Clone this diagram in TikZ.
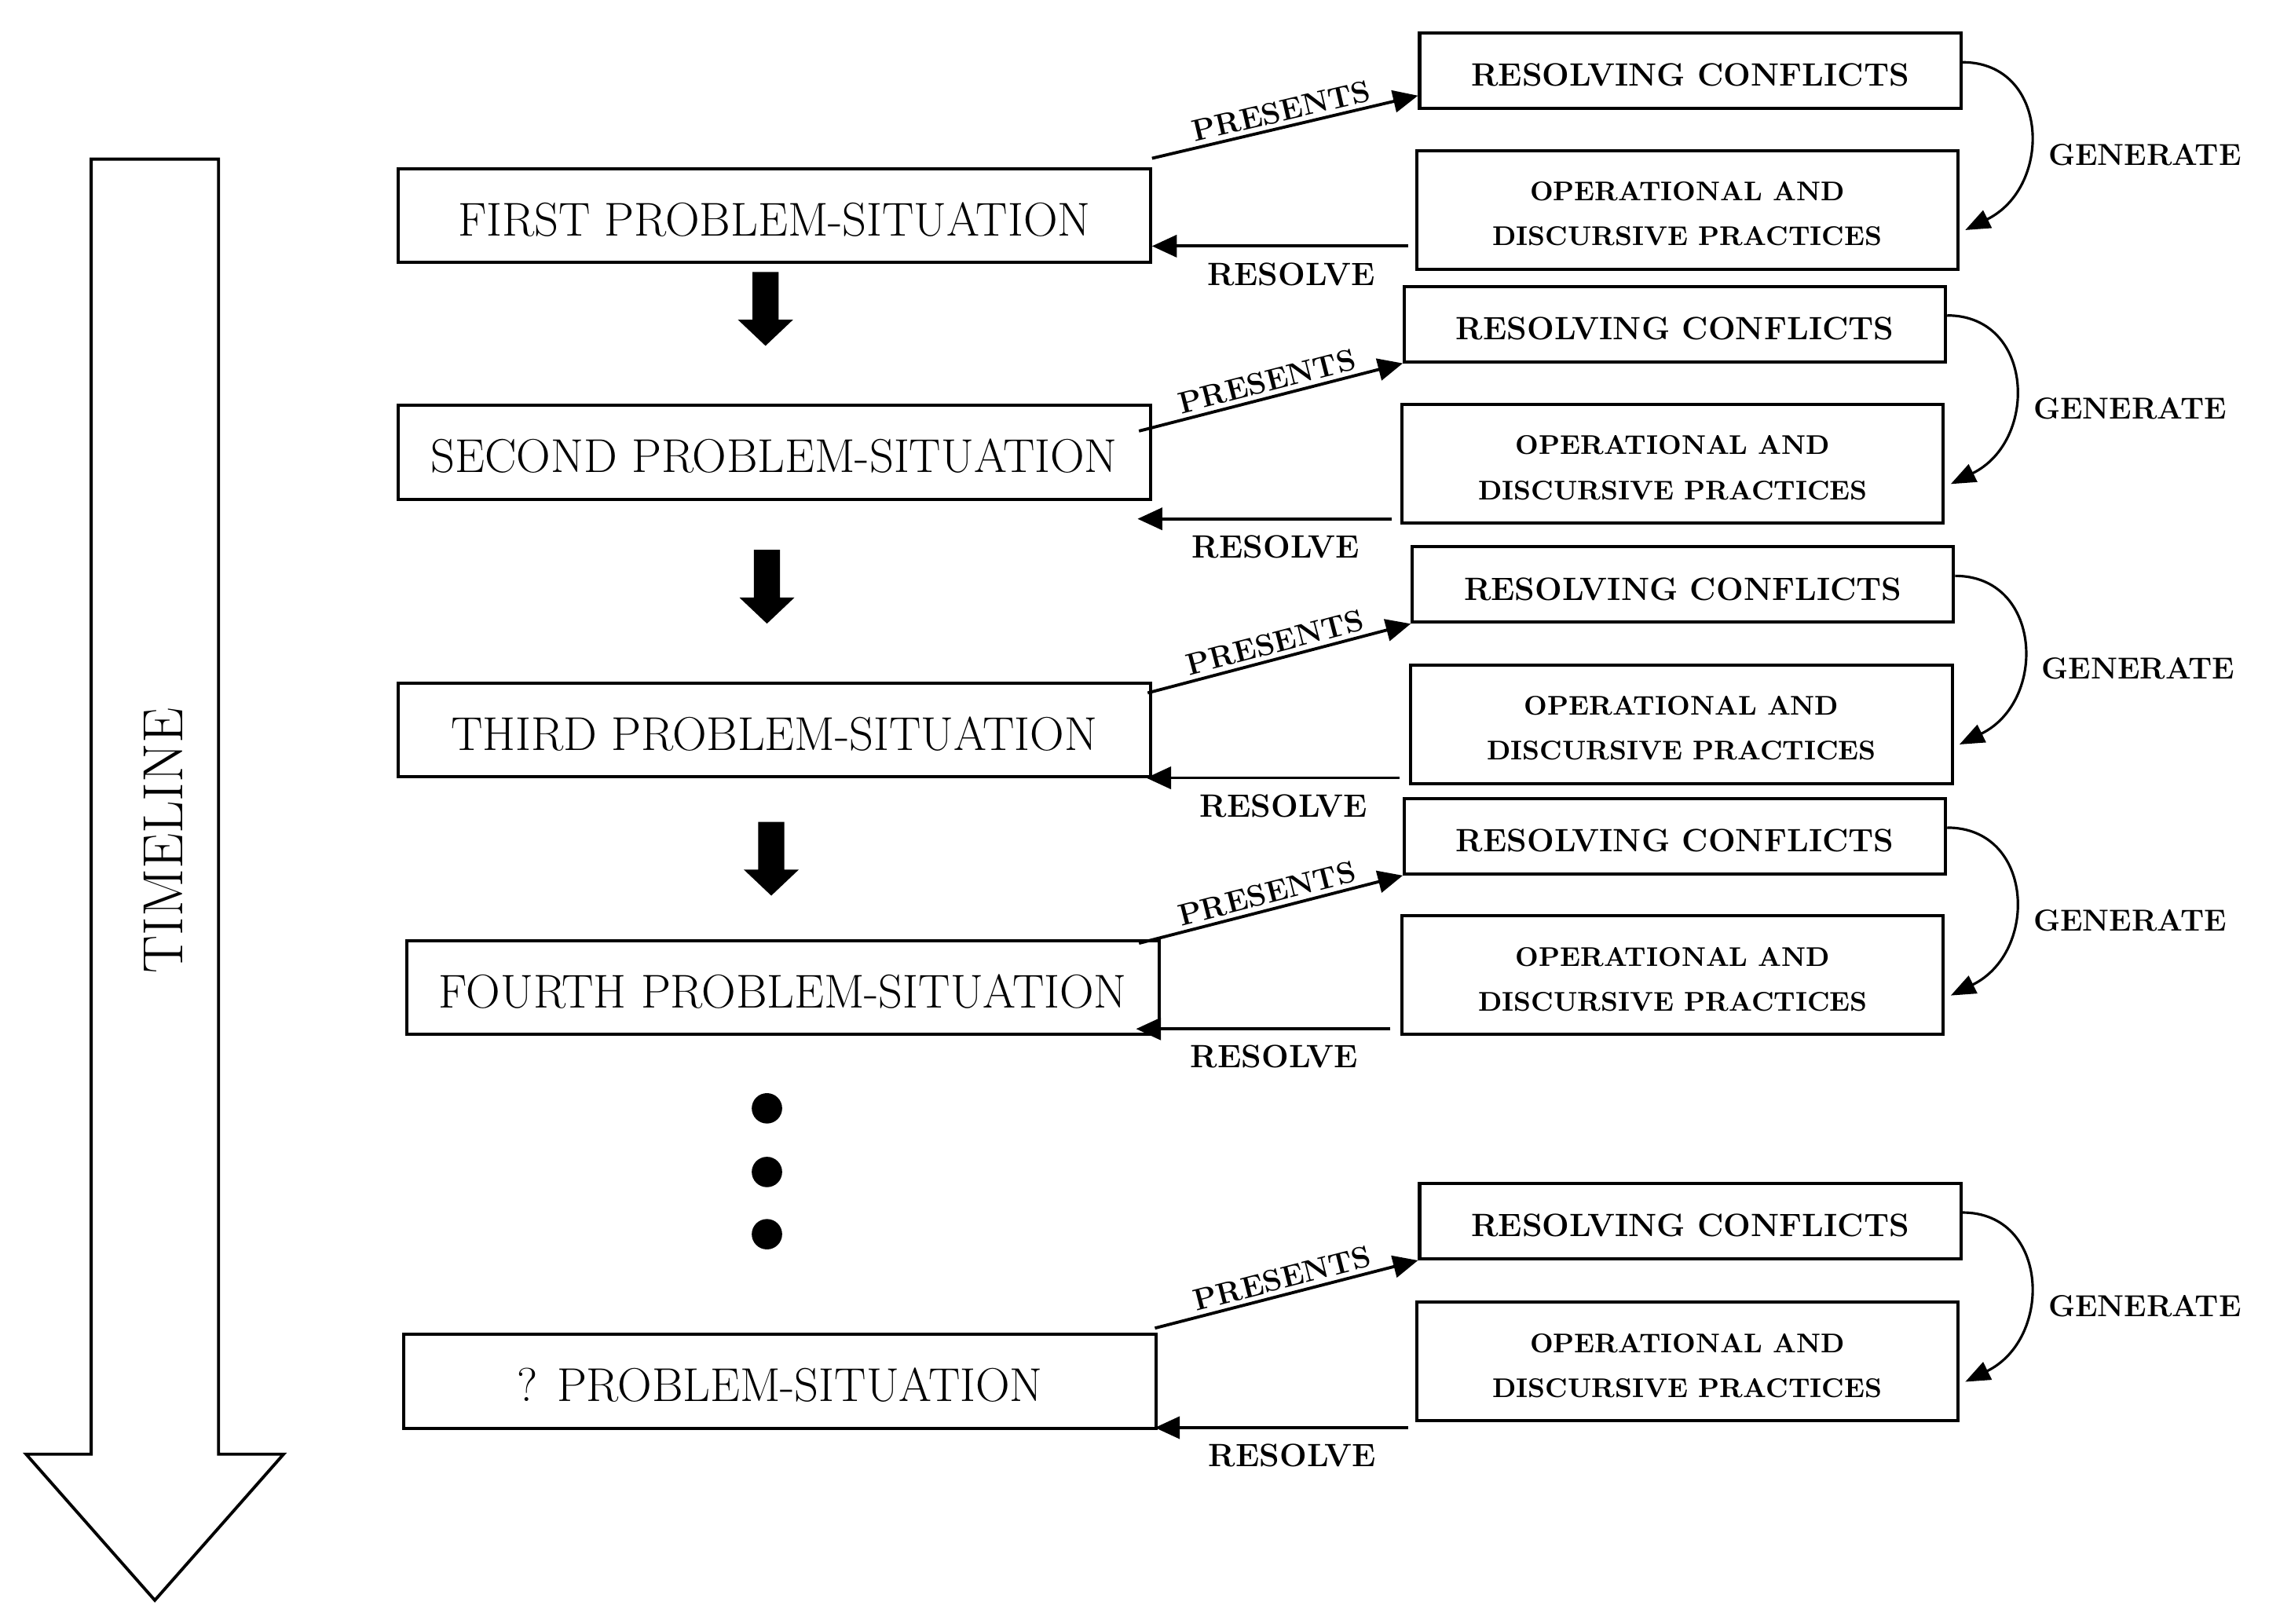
\documentclass[tikz,border=0pt]{standalone}
\usepackage{fontspec}
\usetikzlibrary{arrows.meta,calc}
\newcommand\dpx{0.018425cm}
\newcommand\odptext{\rule{0pt}{9.8pt}OPERATIONAL AND\\DISCURSIVE PRACTICES}
\tikzset{
  probbox/.style={draw, line width=1.15pt, minimum width={520*\dpx}, minimum height={65*\dpx}, inner sep=0pt, text height=14.8pt, text depth=0pt, font=\fontsize{17.2}{20}\selectfont},
  rcbox/.style={draw, line width=1.15pt, minimum width={374*\dpx}, minimum height={52*\dpx}, inner sep=0pt, text height=11.2pt, text depth=0pt, font=\bfseries\fontsize{11.7}{13}\selectfont},
  odpbox/.style={draw, line width=1.15pt, minimum width={374*\dpx}, minimum height={82*\dpx}, inner sep=0pt, align=center, font=\bfseries\fontsize{9.8}{16.3}\selectfont},
  conn/.style={line width=1.1pt, -{Triangle[length=9pt,width=8pt]}},
  gen/.style={line width=0.9pt, -{Triangle[length=9pt,width=7pt]}},
  lbl/.style={font=\bfseries\fontsize{11}{13}\selectfont, inner sep=0pt},
  reslbl/.style={font=\bfseries\fontsize{11.7}{13}\selectfont, inner sep=0pt, below=5.4pt, xshift=4pt},
  blockarrow/.pic={\fill (-9,0) -- (9,0) -- (9,33) -- (19,33) -- (0,51) -- (-19,33) -- (-9,33) -- cycle;}
}
\begin{document}
\begin{tikzpicture}[x=0.018425cm, y=-0.018425cm]
\useasboundingbox (0,0) rectangle (1568,1122);

% timeline
\draw[line width=1.1pt, line join=miter] (63,110) -- (151,110) -- (151,1005) -- (196,1005) -- (107,1106) -- (18,1005) -- (63,1005) -- cycle;
\node[rotate=90, font=\fontsize{20.5}{24}\selectfont] (tl) at (113,581) {TIMELINE};

% row 1
\node[probbox] (p1) at (535,149) {FIRST PROBLEM-SITUATION};
\node[rcbox] (c1) at (1168,49) {RESOLVING CONFLICTS};
\node[odpbox] (o1) at (1166,145) {\odptext};
\draw[conn] ($(p1.north east)+(0,-6)$) -- node[lbl, sloped, above=1.5pt]{PRESENTS} ($(c1.south west)+(0,-10)$);
\coordinate (r1) at ($(o1.south west)+(-5,-17)$);
\draw[conn] (r1) -- node[reslbl]{RESOLVE} (r1 -| p1.east);
\draw[gen] ($(c1.east)+(0,-6)$) .. controls +(60,0) and +(61,-30) .. ($(o1.east)+(4,14)$);
\node[lbl, anchor=west] (g1) at ($(c1.east)!0.5!(o1.east)+(60,10)$) {GENERATE};

% row 2
\node[probbox] (p2) at (535,312.5) {SECOND PROBLEM-SITUATION};
\node[rcbox] (c2) at (1157.5,224) {RESOLVING CONFLICTS};
\node[odpbox] (o2) at (1156,320.5) {\odptext};
\draw[conn] ($(p2.north east)+(-9,19)$) -- node[lbl, sloped, above=1.5pt]{PRESENTS} (c2.south west);
\coordinate (r2) at ($(o2.south west)+(-6,-4)$);
\draw[conn] (r2) -- node[reslbl]{RESOLVE} ($(r2 -| p2.east)+(-10,0)$);
\draw[gen] ($(c2.east)+(0,-6)$) .. controls +(60,0) and +(61,-30) .. ($(o2.east)+(4,14)$);
\node[lbl, anchor=west] (g2) at ($(c2.east)!0.5!(o2.east)+(60,10)$) {GENERATE};

% row 3
\node[probbox] (p3) at (535,504.5) {THIRD PROBLEM-SITUATION};
\node[rcbox] (c3) at (1163,404) {RESOLVING CONFLICTS};
\node[odpbox] (o3) at (1162,500.5) {\odptext};
\draw[conn] ($(p3.north east)+(-3,8)$) -- node[lbl, sloped, above=1.5pt]{PRESENTS} (c3.south west);
\coordinate (r3) at ($(o3.south west)+(-7,-5)$);
\draw[conn] (r3) -- node[reslbl]{RESOLVE} ($(r3 -| p3.east)+(-4,0)$);
\draw[gen] ($(c3.east)+(0,-6)$) .. controls +(60,0) and +(61,-30) .. ($(o3.east)+(4,14)$);
\node[lbl, anchor=west] (g3) at ($(c3.east)!0.5!(o3.east)+(60,10)$) {GENERATE};

% row 4
\node[probbox] (p4) at (541,682.5) {FOURTH PROBLEM-SITUATION};
\node[rcbox] (c4) at (1157.5,578) {RESOLVING CONFLICTS};
\node[odpbox] (o4) at (1156,674) {\odptext};
\draw[conn] ($(p4.north east)+(-15,3)$) -- node[lbl, sloped, above=1.5pt]{PRESENTS} (c4.south west);
\coordinate (r4) at ($(o4.south west)+(-7,-5)$);
\draw[conn] (r4) -- node[reslbl]{RESOLVE} ($(r4 -| p4.east)+(-17,0)$);
\draw[gen] ($(c4.east)+(0,-6)$) .. controls +(60,0) and +(61,-30) .. ($(o4.east)+(4,14)$);
\node[lbl, anchor=west] (g4) at ($(c4.east)!0.5!(o4.east)+(60,10)$) {GENERATE};

% block arrows
\pic at (529,188) {blockarrow};
\pic at (530,380) {blockarrow};
\pic at (533,568) {blockarrow};

% dots
\fill (530,766) circle (10.5);
\fill (530,810) circle (10.5);
\fill (530,853) circle (10.5);

% row 5
\node[probbox] (p5) at (539,954.5) {? PROBLEM-SITUATION};
\node[rcbox] (c5) at (1168,844) {RESOLVING CONFLICTS};
\node[odpbox] (o5) at (1166,941) {\odptext};
\draw[conn] ($(p5.north east)+(-2,-3)$) -- node[lbl, sloped, above=1.5pt]{PRESENTS} (c5.south west);
\coordinate (r5) at ($(o5.south west)+(-5,3.6)$);
\draw[conn] (r5) -- node[reslbl]{RESOLVE} ($(r5 -| p5.east)+(-2,0)$);
\draw[gen] ($(c5.east)+(0,-6)$) .. controls +(60,0) and +(61,-30) .. ($(o5.east)+(4,14)$);
\node[lbl, anchor=west] (g5) at ($(c5.east)!0.5!(o5.east)+(60,10)$) {GENERATE};
\end{tikzpicture}
\end{document}
